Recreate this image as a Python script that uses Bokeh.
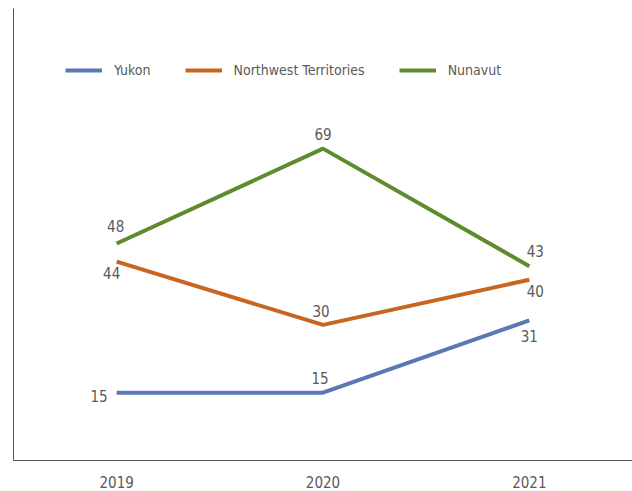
from bokeh.plotting import figure
from bokeh.models import ColumnDataSource, FactorRange, Range1d, Legend, LegendItem, FixedTicker
from bokeh.core.properties import value
from bokeh.embed import file_html
from bokeh.resources import INLINE

years = ["2019", "2020", "2021"]
yukon = [15, 15, 31]
nwt = [44, 30, 40]
nunavut = [48, 69, 43]

FONT = "DejaVu Sans Condensed"
TXT = "#595959"
colors = {"Yukon": "#5b77b4", "Northwest Territories": "#c8651f", "Nunavut": "#5f8b2c"}

p = figure(width=632, height=491, x_range=FactorRange(*years, range_padding=0),
           y_range=Range1d(0, 100), output_backend="svg", toolbar_location=None,
           min_border_left=13, min_border_top=8, min_border_right=0, min_border_bottom=31)
p.outline_line_color = None
p.xgrid.visible = False
p.ygrid.visible = False

series = [("Yukon", yukon), ("Northwest Territories", nwt), ("Nunavut", nunavut)]
renderers = {}
for name, vals in series:
    src = ColumnDataSource(dict(x=years, y=vals))
    renderers[name] = p.line("x", "y", source=src, line_color=colors[name], line_width=4)

# data labels
label_offsets = {
    "Yukon": [(-9, 3, "right"), (-3, -15, "center"), (0, 16, "center")],
    "Northwest Territories": [(-5, 11, "center"), (-2, -14, "center"), (6, 11, "center")],
    "Nunavut": [(-1, -18, "center"), (0, -15, "center"), (6, -15, "center")],
}
for name, vals in series:
    for i, (yr, v) in enumerate(zip(years, vals)):
        dx, dy, al = label_offsets[name][i]
        p.text(x=[yr], y=[v], text=[str(v)], x_offset=dx, y_offset=dy,
               text_align=al, text_baseline="middle", text_font=value(FONT),
               text_font_size="15px", text_color=TXT)

legend = Legend(items=[LegendItem(label=n, renderers=[renderers[n]]) for n, _ in series],
                orientation="horizontal", location=(52, 380))
legend.border_line_color = None
legend.background_fill_alpha = 0
legend.padding = 0
legend.margin = 0
legend.spacing = 34
legend.glyph_width = 37
legend.label_standoff = 12
legend.label_text_font = FONT
legend.label_text_font_size = "14px"
legend.label_text_color = TXT
p.add_layout(legend)

p.yaxis.ticker = FixedTicker(ticks=[])
p.yaxis.major_tick_line_color = None
p.yaxis.minor_tick_line_color = None
p.yaxis.axis_line_color = "#555555"
p.xaxis.major_tick_line_color = None
p.xaxis.minor_tick_line_color = None
p.xaxis.axis_line_color = "#555555"
p.xaxis.major_label_text_font = FONT
p.xaxis.major_label_text_font_size = "15px"
p.xaxis.major_label_text_color = TXT
p.xaxis.major_label_standoff = 9

open("out.html", "w").write(file_html(p, INLINE))
